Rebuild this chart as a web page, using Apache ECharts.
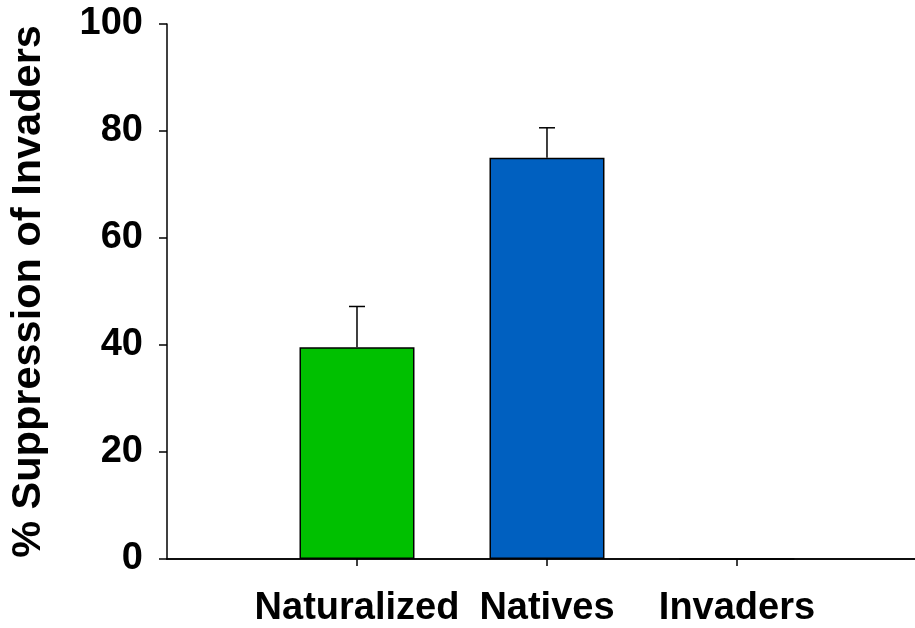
<!DOCTYPE html>
<html><head><meta charset="utf-8">
<script src="https://cdn.jsdelivr.net/npm/echarts@6/dist/echarts.min.js"></script>
<style>html,body{margin:0;padding:0;background:#fff}#c{width:915px;height:628px}</style>
</head><body><div id="c"></div>
<script>
var categories = ['Naturalized', 'Natives', 'Invaders'];
var positions = [1, 2, 3];
var means = [39.6, 75.0, 0];
var errUpper = [47.2, 80.6, null];
var colors = ['#00C000', '#0060C0', '#808080'];
var yTicks = [0, 20, 40, 60, 80, 100];

var chart = echarts.init(document.getElementById('c'));
var font = 'Liberation Sans, Arial, sans-serif';
var barData = means.map(function (v, i) {
  return { value: [positions[i], v], itemStyle: { color: colors[i] } };
});
var errData = [];
for (var i = 0; i < means.length; i++) {
  if (errUpper[i] != null) errData.push([positions[i], means[i], errUpper[i]]);
}
chart.setOption({
  animation: false,
  grid: { left: 163, right: 0, top: 24, bottom: 69, containLabel: false },
  xAxis: [{
    type: 'value', min: 0, max: 3.937, interval: 1,
    splitLine: { show: false },
    axisLine: { show: true, onZero: false, lineStyle: { color: '#000', width: 1.5 } },
    axisTick: { show: true, inside: false, length: 7, customValues: positions, lineStyle: { color: '#000', width: 1.5 } },
    axisLabel: {
      show: true, customValues: positions, margin: 31,
      fontFamily: font, fontWeight: 'bold', fontSize: 38, color: '#000',
      formatter: function (v) { var k = positions.indexOf(Math.round(v)); return k >= 0 ? categories[k] : ''; }
    }
  }, {
    type: 'value', position: 'top', min: 0, max: 3.937,
    splitLine: { show: false },
    axisLine: { show: true, lineStyle: { color: '#000', width: 1.5 } },
    axisTick: { show: false }, axisLabel: { show: false }
  }],
  yAxis: {
    type: 'value', min: 0, max: 100, interval: 20,
    name: '% Suppression of Invaders', nameLocation: 'middle', nameRotate: 90, nameGap: 117,
    nameTextStyle: { fontFamily: font, fontWeight: 'bold', fontSize: 41.5, color: '#000' },
    splitLine: { show: false },
    axisLine: { show: true, lineStyle: { color: '#000', width: 1.5 } },
    axisTick: { show: true, inside: false, length: 8, lineStyle: { color: '#000', width: 1.5 } },
    axisLabel: {
      margin: 24, fontFamily: font, fontWeight: 'bold', fontSize: 38, color: '#000',
      formatter: function (v) { return yTicks.indexOf(v) >= 0 ? String(v) : ''; }
    }
  },
  series: [{
    type: 'bar', xAxisIndex: 0, barWidth: 115, data: barData,
    itemStyle: { borderColor: '#000', borderWidth: 1.5 }, z: 2
  }, {
    type: 'custom', xAxisIndex: 0, data: errData, z: 3,
    renderItem: function (params, api) {
      var x = api.value(0), lo = api.value(1), hi = api.value(2);
      var p0 = api.coord([x, lo]), p1 = api.coord([x, hi]);
      var half = 8;
      return { type: 'group', children: [
        { type: 'line', shape: { x1: p0[0], y1: p0[1], x2: p1[0], y2: p1[1] }, style: { stroke: '#000', lineWidth: 1.5 } },
        { type: 'line', shape: { x1: p1[0] - half, y1: p1[1], x2: p1[0] + half, y2: p1[1] }, style: { stroke: '#000', lineWidth: 1.5 } }
      ] };
    }
  }]
});
</script></body></html>
